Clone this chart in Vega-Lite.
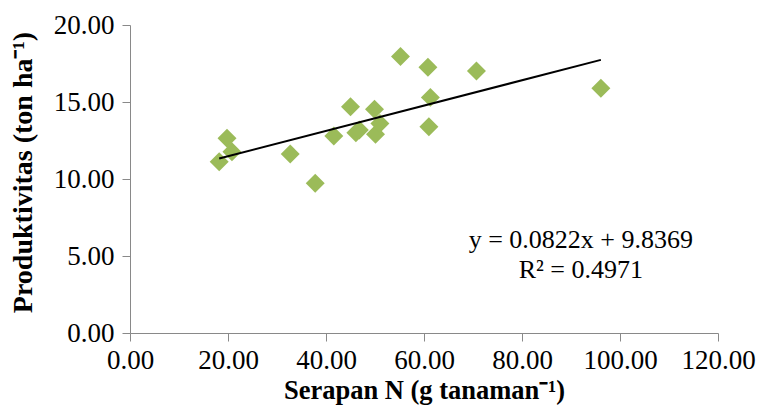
{
  "$schema": "https://vega.github.io/schema/vega-lite/v6.json",
  "width": 588,
  "height": 308,
  "autosize": {"type": "none"},
  "padding": {"left": 130, "top": 25, "right": 40, "bottom": 75},
  "background": "white",
  "config": {
    "view": {"stroke": null},
    "axis": {
      "grid": false,
      "domainColor": "#898989",
      "tickColor": "#898989",
      "tickSize": 8,
      "labelFont": "Liberation Serif",
      "labelFontSize": 27,
      "labelColor": "#000000",
      "labelOverlap": false,
      "labelFlush": false,
      "titleFont": "Liberation Serif",
      "titleFontSize": 26,
      "titleFontWeight": "bold",
      "titleColor": "#000000"
    }
  },
  "datasets": {
    "points": [
      {"serapan": 18.2, "produktivitas": 11.12},
      {"serapan": 19.8, "produktivitas": 12.64},
      {"serapan": 20.8, "produktivitas": 11.77},
      {"serapan": 32.7, "produktivitas": 11.62},
      {"serapan": 37.8, "produktivitas": 9.73},
      {"serapan": 41.6, "produktivitas": 12.79},
      {"serapan": 45.0, "produktivitas": 14.69},
      {"serapan": 46.1, "produktivitas": 13.0},
      {"serapan": 46.8, "produktivitas": 13.18},
      {"serapan": 49.9, "produktivitas": 14.53},
      {"serapan": 50.1, "produktivitas": 12.9},
      {"serapan": 51.0, "produktivitas": 13.6},
      {"serapan": 55.2, "produktivitas": 17.95},
      {"serapan": 60.8, "produktivitas": 17.26},
      {"serapan": 61.3, "produktivitas": 15.3},
      {"serapan": 61.0, "produktivitas": 13.4},
      {"serapan": 70.7, "produktivitas": 17.02},
      {"serapan": 96.1, "produktivitas": 15.89}
    ],
    "trend": [
      {"serapan": 18.2, "produktivitas": 11.333},
      {"serapan": 96.1, "produktivitas": 17.736}
    ],
    "labels": [
      {"serapan": 92.0, "produktivitas": 5.5, "text": "y = 0.0822x + 9.8369"},
      {"serapan": 92.0, "produktivitas": 3.56, "text": "R² = 0.4971"}
    ]
  },
  "encoding": {
    "x": {
      "field": "serapan",
      "type": "quantitative",
      "scale": {"domain": [0, 120], "nice": false, "zero": true},
      "axis": {
        "values": [0, 20, 40, 60, 80, 100, 120],
        "format": ".2f",
        "labelPadding": 6,
        "titlePadding": 4,
        "titleFontSize": 26.5,
        "title": "Serapan N (g tanaman⁻¹)"
      }
    },
    "y": {
      "field": "produktivitas",
      "type": "quantitative",
      "scale": {"domain": [0, 20], "nice": false},
      "axis": {
        "values": [0, 5, 10, 15, 20],
        "format": ".2f",
        "labelPadding": 8,
        "titlePadding": 16,
        "titleFontSize": 28,
        "titleY": 147,
        "title": "Produktivitas (ton ha⁻¹)"
      }
    }
  },
  "layer": [
    {
      "data": {"name": "points"},
      "mark": {"type": "point", "shape": "diamond", "filled": true, "color": "#9BBB59", "opacity": 1, "size": 360}
    },
    {
      "data": {"name": "trend"},
      "mark": {"type": "line", "color": "#000000", "strokeWidth": 2}
    },
    {
      "data": {"name": "labels"},
      "mark": {"type": "text", "font": "Liberation Serif", "fontSize": 26, "align": "center", "baseline": "alphabetic", "color": "#000000"},
      "encoding": {"text": {"field": "text"}}
    }
  ]
}
